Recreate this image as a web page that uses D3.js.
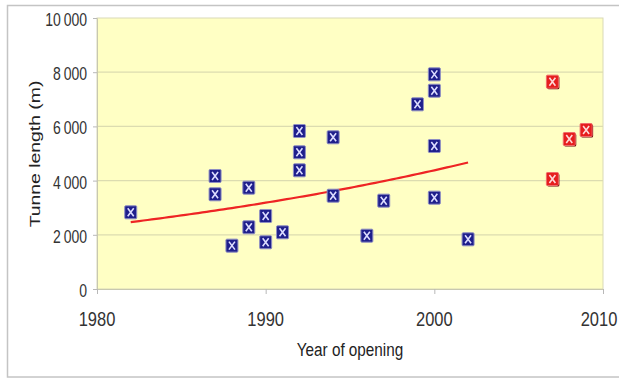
<!DOCTYPE html>
<html>
<head>
<meta charset="utf-8">
<script src="https://cdn.jsdelivr.net/npm/d3@7"></script>
<style>
  html, body { margin: 0; padding: 0; background: #ffffff; }
  svg { display: block; font-family: "Liberation Sans", Arial, Helvetica, sans-serif; }
</style>
</head>
<body>
<svg id="chart" width="619" height="379"></svg>
<script>
// Tunnels opened before 2003 (blue) and tunnels opened 2007-2009 (red)
const pastYears   = [1982, 1987, 1987, 1988, 1989, 1989, 1990, 1990, 1991, 1992, 1992, 1992,
                     1994, 1994, 1996, 1997, 1999, 2000, 2000, 2000, 2000, 2002];
const pastLengths = [2830, 4170, 3495, 1600, 3740, 2277, 2694, 1723, 2092, 5830, 5044, 4380,
                     5598, 3443, 1968, 3260, 6814, 7920, 7317, 5277, 3370, 1833];
const newYears    = [2007, 2007, 2008, 2009];
const newLengths  = [7650, 4059, 5535, 5867];

const xTicks = [1980, 1990, 2000, 2010];
const yTicks = [0, 2000, 4000, 6000, 8000, 10000];

const width = 619, height = 379;
const margin = { top: 18, right: 16, bottom: 90, left: 97 };
const svg = d3.select("#chart");

const x = d3.scaleLinear().domain([1980, 2010]).range([margin.left, width - margin.right]);
const y = d3.scaleLinear().domain([0, 10000]).range([height - margin.bottom, margin.top]);

// outer chart frame
svg.append("rect")
  .attr("x", 7.5).attr("y", 5.5).attr("width", 640).attr("height", 371.5)
  .attr("fill", "#ffffff").attr("stroke", "#c4c4c4").attr("stroke-width", 1.5);

// plot area
svg.append("rect")
  .attr("x", x(1980)).attr("y", y(10000))
  .attr("width", x(2010) - x(1980)).attr("height", y(0) - y(10000))
  .attr("fill", "#ffffc4").attr("stroke", "#d9d9b8").attr("stroke-width", 1);

// horizontal gridlines
svg.append("g").selectAll("line")
  .data(yTicks.filter(d => d > 0 && d < 10000))
  .join("line")
  .attr("x1", x(1980)).attr("x2", x(2010))
  .attr("y1", d => y(d)).attr("y2", d => y(d))
  .attr("stroke", "#dcdcb0").attr("stroke-width", 1.2);

// axes
const fmt = d => d3.format(",")(d).replace(/,/g, "\u2009");
const yAxis = svg.append("g")
  .attr("transform", `translate(${x(1980)},0)`)
  .call(d3.axisLeft(y).tickValues(yTicks).tickSize(4).tickFormat(""));
yAxis.select(".domain").attr("stroke", "#c8c8b0");
yAxis.selectAll(".tick line").attr("stroke", "#b8b8b8");

const xAxis = svg.append("g")
  .attr("transform", `translate(0,${y(0)})`)
  .call(d3.axisBottom(x).tickValues(xTicks).tickSize(5).tickFormat(""));
xAxis.select(".domain").attr("stroke", "#c8c8b0");
xAxis.selectAll(".tick line").attr("stroke", "#b8b8b8");

// tick labels (slightly tall letterforms)
svg.append("g").selectAll("text")
  .data(yTicks)
  .join("text")
  .attr("transform", d => `translate(87,${y(d) + 2}) scale(1,1.25)`)
  .attr("text-anchor", "end").attr("dominant-baseline", "central")
  .attr("font-size", 14).attr("fill", "#333")
  .text(fmt);

// x labels centred on their ticks, kept inside the page edge
svg.append("g").selectAll("text")
  .data(xTicks)
  .join("text")
  .attr("transform", d => `translate(${Math.min(x(d), width - 20)},326) scale(1,1.25)`)
  .attr("text-anchor", "middle")
  .attr("font-size", 16.5).attr("fill", "#333")
  .text(d => d);

// axis titles
svg.append("text")
  .attr("transform", `translate(${(x(1980) + x(2010)) / 2},356) scale(1,1.25)`)
  .attr("text-anchor", "middle").attr("font-size", 15.3).attr("fill", "#222")
  .text("Year of opening");

svg.append("text")
  .attr("transform", `translate(39.5,154) rotate(-90) scale(1.25,1)`)
  .attr("text-anchor", "middle").attr("font-size", 15.5).attr("fill", "#222")
  .text("Tunne length (m)");

// exponential trend fitted to the earlier tunnels (least squares on log length)
const mx = d3.mean(pastYears);
const ly = pastLengths.map(Math.log);
const my = d3.mean(ly);
const b = d3.sum(pastYears, (v, i) => (v - mx) * (ly[i] - my)) / d3.sum(pastYears, v => (v - mx) ** 2);
const a = my - b * mx;
const [tMin, tMax] = d3.extent(pastYears);
const trendPts = d3.range(tMin, tMax + 0.001, 0.25).map(t => [t, Math.exp(a + b * t)]);
svg.append("path")
  .datum(trendPts)
  .attr("fill", "none").attr("stroke", "#ee2424").attr("stroke-width", 2.2)
  .attr("d", d3.line().x(d => x(d[0])).y(d => y(d[1])));

// markers: square with a cross
function drawMarkers(years, lengths, fill, edge, cross, shadow) {
  const g = svg.append("g").selectAll("g")
    .data(years.map((yr, i) => ({ yr, len: lengths[i] })))
    .join("g")
    .attr("transform", d => `translate(${x(d.yr)},${y(d.len)})`);
  if (shadow) {
    g.append("rect").attr("x", -5).attr("y", -5.5).attr("width", 12).attr("height", 13)
      .attr("rx", 1.5).attr("fill", shadow);
  }
  g.append("rect").attr("x", -6).attr("y", -6.5).attr("width", 12).attr("height", 13)
    .attr("rx", 1).attr("fill", fill).attr("stroke", edge).attr("stroke-width", 1);
  g.append("path").attr("d", "M-3,-4L3,4M3,-4L-3,4")
    .attr("stroke", cross).attr("stroke-width", 1.6).attr("fill", "none");
}
drawMarkers(pastYears, pastLengths, "#1f1f8c", "#8f8fc4", "#dcdcff", null);
drawMarkers(newYears, newLengths, "#e61e1e", "#f06a6a", "#ffd8d8", "#6a0a0a");
</script>
</body>
</html>
